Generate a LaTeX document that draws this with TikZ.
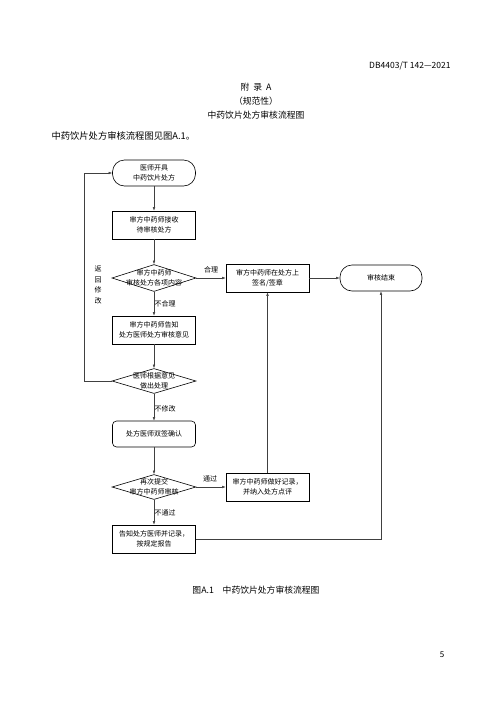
\documentclass[tikz,border=0pt]{standalone}
\usepackage{fontspec}
\setmainfont{Noto Sans CJK SC}
\usetikzlibrary{arrows.meta, shapes.geometric}

\begin{document}
\begin{tikzpicture}[x=1pt, y=-1pt,
				proc/.style={draw, line width=0.6pt, minimum width=83pt, minimum height=28pt, inner sep=0pt, align=center, font=\fontsize{7}{10.5}\selectfont},
				term/.style={proc, rounded corners=12pt, minimum height=26pt},
				decision/.style={draw, diamond, line width=0.6pt, aspect=3, minimum width=84pt, minimum height=25pt, inner sep=0pt},
				txt/.style={align=center, inner sep=0pt, font=\fontsize{7}{10.5}\selectfont},
				flow/.style={draw=black!75, line width=0.5pt, -{Latex[length=3.5pt, width=2.6pt]}}
				]
				
				\useasboundingbox (0,0) rectangle (500,707);
				
				% page header and title
				\node[anchor=east, font=\fontsize{8.5}{10}\selectfont] (hdr) at (454,66) {DB4403/T 142—2021};
				\node[font=\fontsize{8.8}{10}\selectfont] (apx) at (256,87) {附\ \ 录\ \ A};
				\node[font=\fontsize{8.8}{10}\selectfont] (nrm) at (256,101) {（规范性）};
				\node[font=\fontsize{8.8}{10}\selectfont] (ttl) at (256,115) {中药饮片处方审核流程图};
				\node[anchor=west, font=\fontsize{9.3}{10}\selectfont] (intro) at (48,136) {中药饮片处方审核流程图见图A.1。};
				
				% flow chart
				\node[term] (start) at (154,173) {医师开具\\中药饮片处方};
				\node[proc] (recv) at (154,225) {审方中药师接收\\待审核处方};
				\node[decision, minimum height=27pt] (chk) at (154,278) {};
				\node[txt] at (chk) {审方中药师\\审核处方各项内容};
				\node[proc] (sign) at (267.5,278) {审方中药师在处方上\\签名/签章};
				\node[term, minimum width=82pt] (end) at (381,278) {审核结束};
				\node[proc] (tell) at (154,330) {审方中药师告知\\处方医师处方审核意见};
				\node[decision] (mod) at (154,381) {};
				\node[txt] at (mod) {医师根据意见\\做出处理};
				\node[proc, rounded corners=4pt, minimum height=26pt] (dual) at (154,434) {处方医师双签确认};
				\node[decision] (resub) at (154,487) {};
				\node[txt] at (resub) {再次提交\\审方中药师审核};
				\node[proc] (rec) at (267.5,487) {审方中药师做好记录，\\并纳入处方点评};
				\node[proc] (rep) at (154,539) {告知处方医师并记录，\\按规定报告};
				
				\coordinate (back) at (84,381);
				
				\draw[flow] (start) -- (recv);
				\draw[flow] (recv) -- (chk);
				\draw[flow] (chk) -- (sign);
				\draw[flow] (sign) -- (end);
				\draw[flow] (chk) -- (tell);
				\draw[flow] (tell) -- (mod);
				\draw[flow] (mod.west) -- (back) |- (start.west);
				\draw[flow] (mod) -- (dual);
				\draw[flow] (dual) -- (resub);
				\draw[flow] (resub) -- (rec);
				\draw[flow] (rec) -- (sign);
				\draw[flow] (resub) -- (rep);
				\draw[flow] (rep.east) -| (end.south);
				
				% branch labels
				\node[txt] (l1) at (211,270) {合理};
				\node[txt] (l2) at (165,304) {不合理};
				\node[txt] (l3) at (98,285) {返\\回\\修\\改};
				\node[txt] (l4) at (165,409) {不修改};
				\node[txt] (l5) at (210,479) {通过};
				\node[txt] (l6) at (165,513) {不通过};
				
				% caption and page number
				\node[font=\fontsize{8.8}{10}\selectfont] (cap) at (256,590) {图A.1\quad 中药饮片处方审核流程图};
				\node[font=\fontsize{8}{10}\selectfont] (pg) at (442,655) {5};
			\end{tikzpicture}
\end{document}
